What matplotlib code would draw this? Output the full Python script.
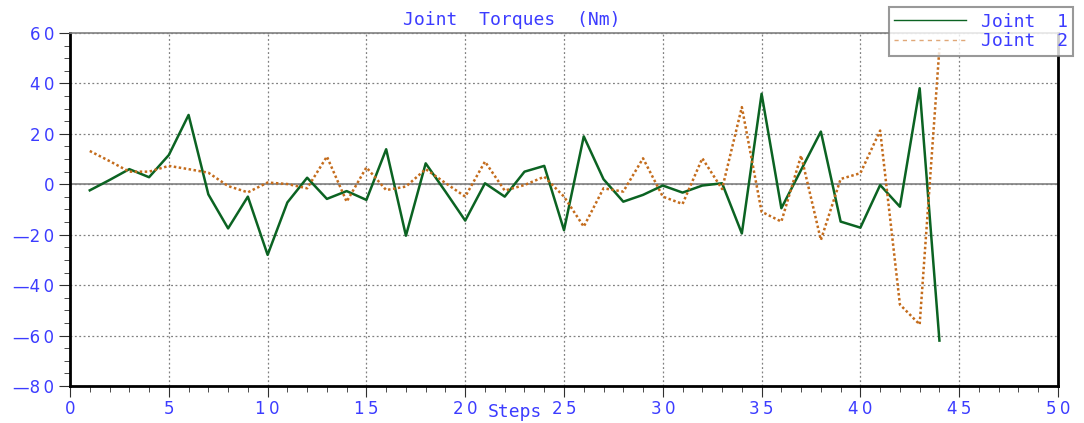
import numpy as np
import matplotlib
matplotlib.use("Agg")
import matplotlib.pyplot as plt
from matplotlib.ticker import MultipleLocator, FuncFormatter

# step index
steps = list(range(1, 45))

# Joint 1 torque (Nm)
joint1 = [-2.4, 1.7, 6.0, 2.8, 11.6, 27.5, -4.0, -17.5, -4.9, -28.0,
          -7.2, 2.6, -5.8, -2.7, -6.2, 13.9, -20.4, 8.3, -2.9, -14.4,
          0.4, -4.9, 5.0, 7.3, -18.2, 19.0, 2.0, -6.9, -4.2, -0.5,
          -3.3, -0.5, 0.4, -19.5, 35.9, -9.5, 5.7, 20.9, -14.8, -17.2,
          -0.3, -8.9, 38.1, -62.0]

# Joint 2 torque (Nm)
joint2 = [13.2, 9.2, 5.0, 5.0, 7.3, 6.0, 4.6, -0.7, -3.2, 0.7,
          0.1, -1.6, 11.0, -6.9, 6.7, -2.3, -0.9, 6.0, 0.5, -4.9,
          9.0, -2.5, -0.3, 3.0, -4.9, -16.8, -1.6, -2.9, 10.3, -4.9,
          -7.8, 10.3, -1.9, 30.6, -10.9, -14.8, 11.4, -22.1, 2.1, 4.4,
          21.3, -47.7, -55.6, 54.0]

labels = ["Joint  1", "Joint  2"]

blue = "#3c3cff"
green = "#0b6322"
orange = "#c46c1c"

fig = plt.figure(figsize=(10.84, 4.23), dpi=100)
ax = fig.add_axes([0.0646, 0.0875, 0.9114, 0.8345])

l1, = ax.plot(steps, joint1, color=green, lw=1.8, label=labels[0])
l2, = ax.plot(steps, joint2, color=orange, lw=1.8, ls=(0, (1, 1)), label=labels[1])

ax.axhline(0, color="#808080", lw=1.2, zorder=1)

ax.set_xlim(0, 50)
ax.set_ylim(-80, 60)
ax.xaxis.set_major_locator(MultipleLocator(5))
ax.xaxis.set_minor_locator(MultipleLocator(1))
ax.yaxis.set_major_locator(MultipleLocator(20))
ax.yaxis.set_minor_locator(MultipleLocator(5))

def fmt(v, pos):
    s = "%d" % abs(v)
    s = "\u2009".join(s)
    if v < 0:
        s = "\u2014" + s
    return s

ax.xaxis.set_major_formatter(FuncFormatter(fmt))
ax.yaxis.set_major_formatter(FuncFormatter(fmt))

ax.grid(True, which="major", color="#808080", ls=(0, (1.5, 2)), lw=0.9)
ax.tick_params(which="both", direction="out", colors="#303030", labelcolor=blue,
               labelsize=12)
ax.tick_params(which="major", length=8)
ax.tick_params(which="minor", length=4)
ax.tick_params(axis="x", pad=2)

for s in ["left", "bottom", "right"]:
    ax.spines[s].set_color("black")
    ax.spines[s].set_linewidth(2)
ax.spines["top"].set_color("#808080")
ax.spines["top"].set_linewidth(1.2)

fig.text(0.472, 0.953, "Joint  Torques  (Nm)", color=blue, fontsize=13,
         ha="center", va="center", family="DejaVu Sans Mono")
fig.text(0.475, 0.025, "Steps", color=blue, fontsize=13,
         ha="center", va="center", family="DejaVu Sans Mono")

leg = fig.legend(handles=[l1, l2], labels=labels, loc="upper right",
                 bbox_to_anchor=(0.99, 0.983), borderaxespad=0, frameon=True,
                 fancybox=False, handlelength=4, borderpad=0.3, labelspacing=0.1,
                 prop={"family": "DejaVu Sans Mono", "size": 13})
leg.get_frame().set_edgecolor("#808080")
leg.get_frame().set_linewidth(1.5)
for t in leg.get_texts():
    t.set_color(blue)
leg.get_lines()[0].set_linewidth(1)
leg.get_lines()[1].set_linestyle((0, (3, 3)))
leg.get_lines()[1].set_linewidth(1)
leg.get_lines()[1].set_color("#e0a878")

fig.savefig("out.png", dpi=100)
